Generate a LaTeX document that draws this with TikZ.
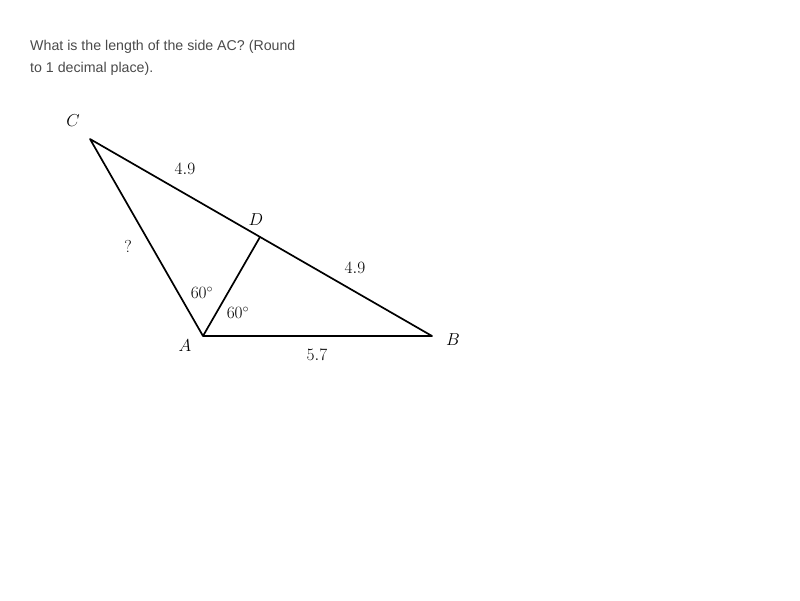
\documentclass[tikz,border=0pt]{standalone}
\usepackage{fontspec}
\setsansfont{Liberation Sans}
\definecolor{qgray}{HTML}{4A4A4A}
\begin{document}
\begin{tikzpicture}[x=1pt,y=-1pt]
\tikzset{
  edge/.style={line width=1.7pt,line join=round},
  lbl/.style={inner sep=0pt,font=\fontsize{17}{20}\selectfont},
}
\path[use as bounding box] (0,0) rectangle (800,600);
\node[anchor=north west,inner sep=0pt,align=left,text=qgray,
  font=\sffamily\fontsize{14.2}{22}\selectfont] (question) at (30,40)
  {What is the length of the side AC? (Round\\to 1 decimal place).};
\coordinate (A) at (203,336);
\coordinate (B) at (432,336);
\coordinate (C) at (90,139);
\coordinate (D) at (260,237);
\draw[edge] (A) -- (B) -- (C) -- cycle;
\draw[edge] (A) -- (D);
\node[lbl] (lA) at (185,346) {$A$};
\node[lbl] (lB) at (453,340) {$B$};
\node[lbl] (lC) at (73,121) {$C$};
\node[lbl] (lD) at (256,220) {$D$};
\node[lbl] (lCD) at (185,169) {$4.9$};
\node[lbl] (lDB) at (355,268) {$4.9$};
\node[lbl] (lAB) at (317,355) {$5.7$};
\node[lbl] (lAC) at (128,246) {$?$};
\node[lbl] (aCAD) at (202,293) {$60^\circ$};
\node[lbl] (aDAB) at (238,313) {$60^\circ$};
\end{tikzpicture}
\end{document}
